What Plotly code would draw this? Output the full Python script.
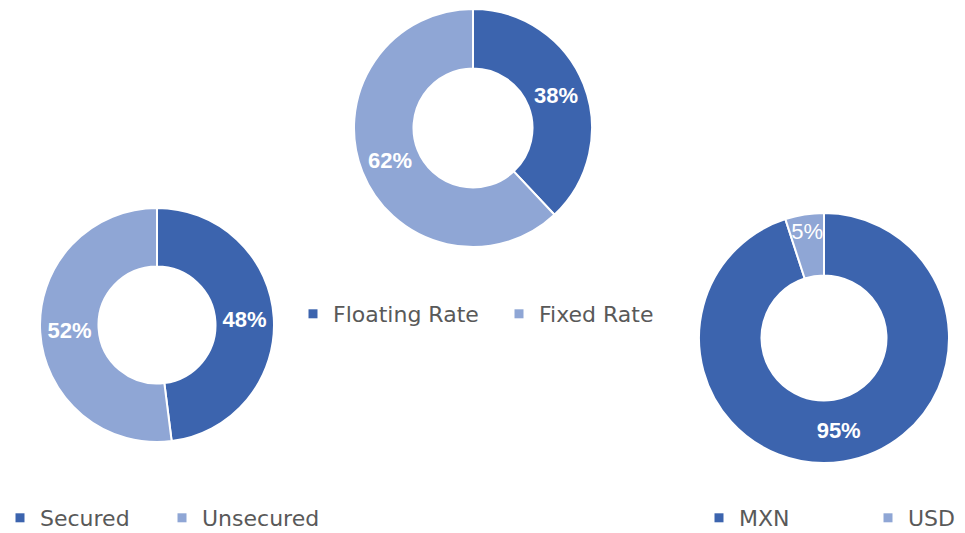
import plotly.graph_objects as go

# Debt breakdown data
rate_labels = ["Floating Rate", "Fixed Rate"]
rate_values = [38, 62]

security_labels = ["Secured", "Unsecured"]
security_values = [48, 52]

currency_labels = ["MXN", "USD"]
currency_values = [95, 5]

dark_blue = "#3C64AE"
light_blue = "#8FA6D5"
colors = [dark_blue, light_blue]

W, H = 965, 533
LABEL_SIZE = 22
BOLD = "<b>%{percent:.0%}</b>"
PLAIN = "%{percent:.0%}"


def dom(cx, cy, r):
    return dict(
        x=[(cx - r) / W, (cx + r) / W],
        y=[1 - (cy + r) / H, 1 - (cy - r) / H],
    )


label_font = dict(family="Liberation Sans", size=LABEL_SIZE, color="white")


def donut(labels, values, domain, templates):
    return go.Pie(
        labels=labels,
        values=values,
        domain=domain,
        hole=0.5,
        sort=False,
        direction="clockwise",
        rotation=0,
        marker=dict(colors=colors, line=dict(color="white", width=2)),
        texttemplate=templates,
        textposition="inside",
        insidetextorientation="horizontal",
        textfont=label_font,
        showlegend=False,
    )


fig = go.Figure()
fig.add_trace(donut(rate_labels, rate_values, dom(473, 128, 119), BOLD))
fig.add_trace(donut(security_labels, security_values, dom(157, 325, 117), BOLD))
fig.add_trace(donut(currency_labels, currency_values, dom(824, 338, 125), [BOLD, PLAIN]))

# One legend per category, each holding a single square key
legend_font = dict(family="DejaVu Sans", size=22, color="#595959")
legend_spots = {
    "Floating Rate": (293, 314),
    "Fixed Rate": (499, 314),
    "Secured": (0, 518),
    "Unsecured": (162, 518),
    "MXN": (699, 518),
    "USD": (868, 518),
}

legend_layout = {}
k = 0
for labels in (rate_labels, security_labels, currency_labels):
    for label, color in zip(labels, colors):
        k += 1
        name = "legend" if k == 1 else f"legend{k}"
        fig.add_trace(go.Scatter(
            x=[None], y=[None], mode="markers", name=label,
            marker=dict(symbol="square", size=9, color=color),
            legend=name, showlegend=True, hoverinfo="skip",
        ))
        lx, ly = legend_spots[label]
        legend_layout[name] = dict(
            x=lx / W, y=1 - ly / H, xref="container", yref="container",
            xanchor="left", yanchor="middle", orientation="h",
            font=legend_font, bgcolor="rgba(0,0,0,0)",
        )

fig.update_layout(
    width=W,
    height=H,
    margin=dict(l=0, r=0, t=0, b=0, autoexpand=False),
    paper_bgcolor="white",
    plot_bgcolor="white",
    uniformtext=dict(minsize=LABEL_SIZE, mode="show"),
    xaxis=dict(visible=False),
    yaxis=dict(visible=False),
    **legend_layout,
)

fig.write_html("out.html")
